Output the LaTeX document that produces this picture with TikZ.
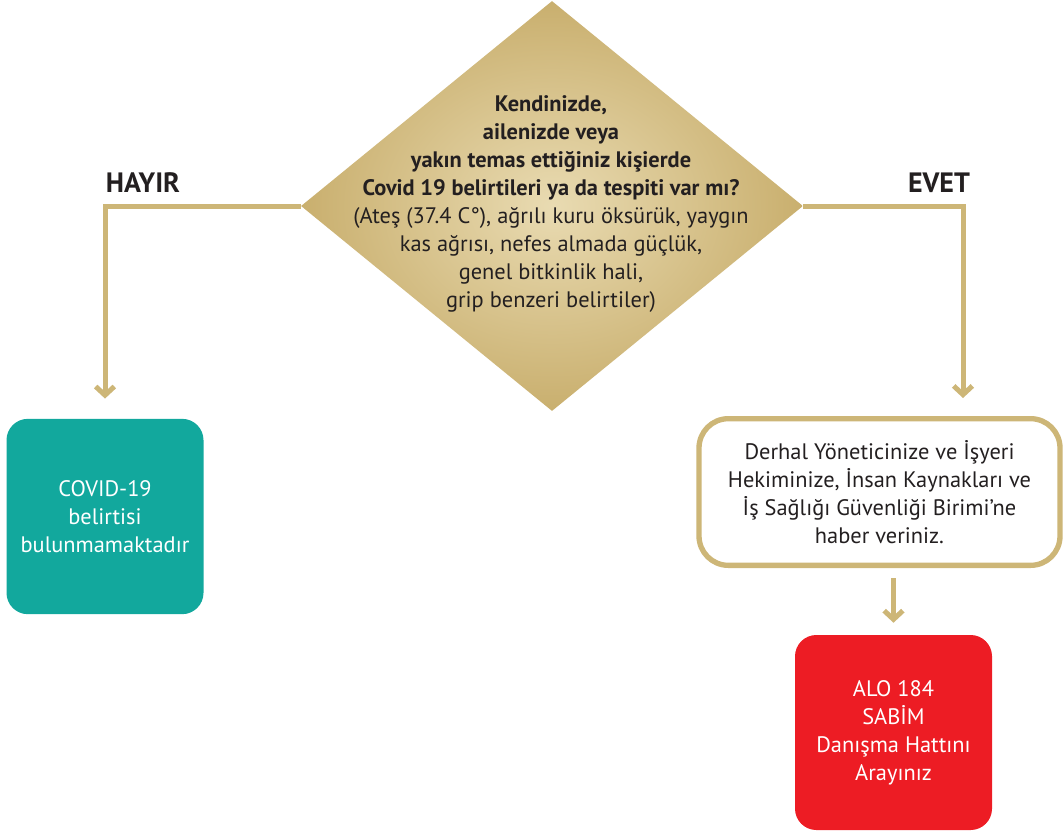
\documentclass[tikz,border=0pt]{standalone}
\usepackage{fontspec}
\setmainfont{PT Sans}
\usetikzlibrary{shapes.geometric,arrows.meta}
\definecolor{gold}{HTML}{CDB677}
\definecolor{goldlight}{HTML}{E9DBB2}
\definecolor{golddark}{HTML}{C9AF6E}
\definecolor{teal}{HTML}{12A89D}
\definecolor{redbox}{HTML}{ED1C24}
\definecolor{ink}{HTML}{231F20}
\tikzset{
  conn/.style={draw=gold, line width=3.75pt, line join=miter,
    -{Straight Barb[length=6.5pt,width=14pt,line join=miter,line cap=butt]}},
  boxtext/.style={align=center, font=\fontsize{16.8}{21}\selectfont},
  fillbox/.style={boxtext, rounded corners=16pt, minimum width=147.75pt,
    minimum height=146.5pt, inner sep=0pt, text=white},
  yesno/.style={text=ink, font=\bfseries\fontsize{21}{24}\selectfont, inner sep=0pt},
}
\begin{document}
\begin{tikzpicture}[x=0.75pt,y=-0.75pt]
\useasboundingbox (0,0) rectangle (1063,836);
% decision diamond
\node[diamond, minimum width=376.5pt, minimum height=307.5pt, inner sep=0pt,
  inner color=goldlight, outer color=golddark] (q) at (552,206) {};
\node[boxtext, text=ink, inner sep=0pt] (qtext) at (551,204) {%
  \textbf{Kendinizde,}\\
  \textbf{ailenizde veya}\\
  \textbf{yakın temas ettiğiniz kişierde}\\
  \textbf{Covid 19 belirtileri ya da tespiti var mı?}\\
  (Ateş (37.4 C°), ağrılı kuru öksürük, yaygın\\
  kas ağrısı, nefes almada güçlük,\\
  genel bitkinlik hali,\\
  grip benzeri belirtiler)};
% labels
\node[yesno] (hayir) at (143,183) {HAYIR};
\node[yesno] (evet) at (939,183) {EVET};
% boxes
\node[fillbox, fill=teal] (no) at (105,516.5) {COVID-19\\belirtisi\\bulunmamaktadır};
\node[boxtext, text=ink, draw=gold, line width=4pt, rounded corners=22pt,
  minimum width=270.75pt, minimum height=110pt, inner sep=0pt] (yes) at (879.5,492)
  {Derhal Yöneticinize ve İşyeri\\Hekiminize, İnsan Kaynakları ve\\İş Sağlığı Güvenliği Birimi’ne\\haber veriniz.};
\node[fillbox, fill=redbox, minimum height=146.25pt] (alo) at (893.5,732.5)
  {ALO 184\\SABİM\\Danışma Hattını\\Arayınız};
% connectors
\coordinate (evetend) at (963,398);
\draw[conn, shorten >=15pt] (q.west) -| (no.north);
\draw[conn] (q.east) -| (evetend);
\draw[conn, shorten <=7.5pt, shorten >=9pt] (alo.north |- yes.south) -- (alo.north);
\end{tikzpicture}
\end{document}
